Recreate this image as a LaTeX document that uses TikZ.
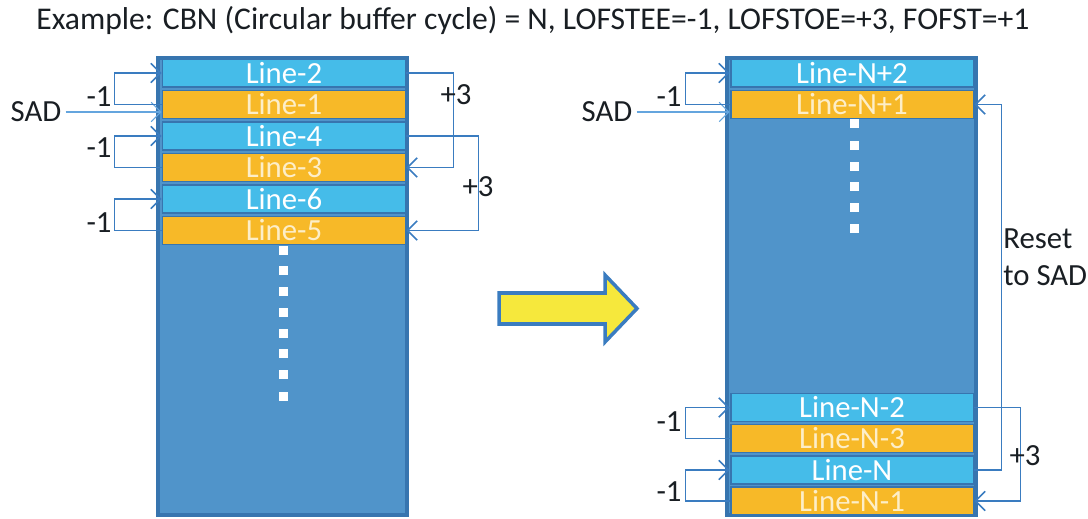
\documentclass[tikz,border=0pt]{standalone}
\usepackage{fontspec}
\setmainfont{Carlito}
\usetikzlibrary{arrows.meta}

\definecolor{bufblue}{RGB}{80,148,202}
\definecolor{bufline}{RGB}{55,117,175}
\definecolor{evenrow}{RGB}{69,188,233}
\definecolor{oddrow}{RGB}{247,185,40}
\definecolor{oddtext}{RGB}{253,238,200}
\definecolor{linkblue}{RGB}{58,124,192}
\definecolor{sadblue}{RGB}{100,165,222}
\definecolor{arrowyellow}{RGB}{246,232,60}
\definecolor{inktext}{RGB}{25,30,35}

\tikzset{
    txt/.style={font=\fontsize{17.5}{21}\selectfont, text=inktext, inner sep=0pt},
    buffer/.style={draw=bufline, fill=bufblue, line width=2.2pt,
        minimum width=4.98cm, minimum height=9.14cm, inner sep=0pt},
    row/.style={draw=bufline, line width=1.1pt, minimum width=4.86cm,
        minimum height=0.56cm, inner sep=0pt, text=white,
        font=\fontsize{17.5}{21}\selectfont},
    link/.style={draw=linkblue, line width=0.9pt, ->},
    sadlink/.style={draw=sadblue, line width=0.6pt, ->},
}

\begin{document}
\begin{tikzpicture}[x=0.02cm, y=-0.02cm, >={Straight Barb[length=5.5pt,width=11pt]}]
    \useasboundingbox (0,0) rectangle (1088,519);

    \node[txt, font=\fontsize{18}{22}\selectfont] (title) at (533,20)
        {Example: CBN (Circular buffer cycle) = N, LOFSTEE=-1, LOFSTOE=+3, FOFST=+1};

    % left buffer
    \node[buffer] (lbuf) at (282.5,286.5) {};
    \foreach \n/\t/\y/\c/\f in {
        l2/Line-2/73/evenrow/white,
        l1/Line-1/104.5/oddrow/oddtext,
        l4/Line-4/136/evenrow/white,
        l3/Line-3/167.5/oddrow/oddtext,
        l6/Line-6/199/evenrow/white,
        l5/Line-5/230.5/oddrow/oddtext} {
        \node[row, fill=\c, text=\f] (\n) at (284,\y) {\t};
    }
    \foreach \y in {251,271,292,313,334,354,375,397} {
        \fill[white] (278.5,\y-4.5) rectangle (287.5,\y+4.5);
    }

    % right buffer
    \node[buffer] (rbuf) at (851.5,286.5) {};
    \foreach \n/\t/\y/\c/\f in {
        rp2/Line-N+2/73/evenrow/white,
        rp1/Line-N+1/104.5/oddrow/oddtext,
        rm2/Line-N-2/407.5/evenrow/white,
        rm3/Line-N-3/438.5/oddrow/oddtext,
        rn/Line-N/470/evenrow/white,
        rm1/Line-N-1/501/oddrow/oddtext} {
        \node[row, fill=\c, text=\f] (\n) at (852,\y) {\t};
    }
    \foreach \y in {124,146,167,187,208,229} {
        \fill[white] (849.5,\y-4.5) rectangle (858.5,\y+4.5);
    }

    % left links
    \node[txt] (sadl) at (36,112) {SAD};
    \draw[sadlink] (sadl.east) ++(4,0) -- (sadl.east -| l1.west);
    \draw[link] (l1.west) -- ++(-47,0) |- (l2.west);
    \draw[link] (l3.west) -- ++(-47,0) |- (l4.west);
    \draw[link] (l5.west) -- ++(-47,0) |- (l6.west);
    \node[txt] (ma) at (99,97) {-1};
    \node[txt] (mb) at (99,148) {-1};
    \node[txt] (mc) at (99,223) {-1};

    \draw[link] (l2.east) -- ++(47,0) |- (l3.east);
    \draw[link] (l4.east) -- ++(72,0) |- (l5.east);
    \node[txt] (pa) at (456,95) {+3};
    \node[txt] (pb) at (478,187) {+3};

    % shift arrow
    \draw[draw=linkblue, fill=arrowyellow, line width=2pt, line join=miter]
        (499,293) -- (605,293) -- (605,275) -- (637,308.5) -- (605,342)
        -- (605,324) -- (499,324) -- cycle;

    % right links
    \node[txt] (sadr) at (607,112) {SAD};
    \draw[sadlink] (sadr.east) ++(4,0) -- (sadr.east -| rp1.west);
    \draw[link] (rp1.west) -- ++(-44,0) |- (rp2.west);
    \draw[link] (rm3.west) -- ++(-44,0) |- (rm2.west);
    \draw[link] (rm1.west) -- ++(-44,0) |- (rn.west);
    \node[txt] (mr) at (669,97) {-1};
    \node[txt] (ms) at (669,422) {-1};
    \node[txt] (mt) at (669,492) {-1};

    \draw[link] (rn.east) -- ++(27,0) |- (rp1.east);
    \draw[link] (rm2.east) -- ++(46,0) |- (rm1.east);
    \node[txt] (pc) at (1025,456) {+3};
    \node[txt, align=left, anchor=west] (reset) at (1003,257) {Reset\\to SAD};
\end{tikzpicture}
\end{document}
